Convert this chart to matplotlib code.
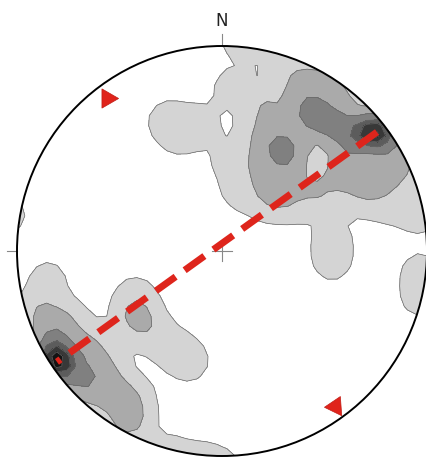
import numpy as np
import matplotlib
matplotlib.use('Agg')
import matplotlib.pyplot as plt
from matplotlib.patches import Circle

# poles in equal-area net coordinates (x = east, y = north), n = count at that spot
pole_x = [0.088, 0.215, 0.049, 0.039, 0.088, 0.210, 0.341, 0.683, 0.829, 0.966,
          0.537, 0.537, 0.966, 0.966, -0.268, -0.107, -0.205,
          0.366, 0.488, 0.576, 0.210, 0.195, 0.195, 0.273, 0.468, 0.600, 0.732, 0.859,
          0.600, 0.868, 0.341,
          0.405, 0.405, 0.507, 0.634, 0.307,
          0.756,
          -0.805,
          -0.839, -0.702, -0.620,
          -0.888, -0.766, -0.644, -0.571, -0.507, -0.459, -0.415,
          -0.849, -0.424, -0.327, -0.229, -0.156,
          -0.424, -0.449, -0.254, -0.107, 0.000, -1.044]
pole_y = [1.029, 1.010, 0.795, 0.444, 0.298, 0.249, 0.234, 0.268, 0.224, 0.176,
          0.063, -0.054, -0.102, -0.229, 0.639, 0.620, 0.566,
          0.844, 0.824, 0.751, 0.712, 0.566, 0.420, 0.298, 0.288, 0.371, 0.337, 0.385,
          0.454, 0.493, 0.420,
          0.737, 0.673, 0.620, 0.580, 0.512,
          0.580,
          -0.541,
          -0.449, -0.620, -0.688,
          -0.298, -0.346, -0.459, -0.571, -0.702, -0.815, -0.327,
          -0.141, -0.220, -0.410, -0.483, -0.541,
          -0.717, -0.849, -0.985, -1.029, -1.059, 0.176]
pole_n = [1, 1, 1, 1, 1, 1, 1, 1, 1, 1,
          1, 1, 1, 1, 1, 1, 1,
          2, 2, 2, 2, 2, 2, 2, 2, 2, 2, 2,
          2, 2, 2,
          1, 3.2, 4, 4, 4,
          9,
          9,
          3, 3, 2,
          2, 2, 2, 2, 2, 2, 2.6,
          1, 1, 1, 1, 1,
          1, 1, 1, 1, 1, 1]

levels = [0.5, 2.2, 4.5, 6.8, 8.2, 9.6, 100]
shades = ['#d4d4d4', '#aaaaaa', '#808080', '#5c5c5c', '#383838', '#141414']

marker_az = [323, 144]      # red triangles on the primitive
marker_rot = [-90, -146]


def density(gx, gy, sigma=0.07):
    d = np.zeros_like(gx)
    for x, y, n in zip(pole_x, pole_y, pole_n):
        d += n * np.exp(-((gx - x) ** 2 + (gy - y) ** 2) / (2 * sigma ** 2))
    return d


fig = plt.figure(figsize=(4.27, 4.57), dpi=100)
ax = fig.add_axes([0, 0, 1, 1])
ax.set_xlim(-222 / 205, 205 / 205)
ax.set_ylim(-206 / 205, 251 / 205)
ax.set_aspect('equal')
ax.axis('off')

g = np.linspace(-1.1, 1.1, 46)
gx, gy = np.meshgrid(g, g)
dens = density(gx, gy)

clip = Circle((0, 0), 1, transform=ax.transData)
cf = ax.contourf(gx, gy, dens, levels=levels, colors=shades)
cl = ax.contour(gx, gy, dens, levels=levels[:-1], colors='#666666', linewidths=0.5)
cf.set_clip_path(clip)
cl.set_clip_path(clip)

ax.add_patch(Circle((0, 0), 1, fill=False, ec='black', lw=1.4, zorder=5))

# ticks: N, W and centre cross
ax.plot([0, 0], [1.0, 1.06], color='#888888', lw=0.8)
ax.plot([-1.0, -1.05], [0, 0], color='#888888', lw=0.8)
ax.plot([-0.05, 0.05], [0, 0], color='#888888', lw=0.8)
ax.plot([0, 0], [-0.05, 0.05], color='#888888', lw=0.8)
ax.text(0, 1.122, 'N', ha='center', va='center', fontsize=12, color='#222222')

# dashed axis between the two maxima
imax = np.argsort(pole_n)[-2:]
ax.plot([pole_x[i] for i in imax], [pole_y[i] for i in imax], color='#de251c', lw=5,
        dashes=(3.5, 1.6), solid_capstyle='butt', dash_capstyle='butt', zorder=6)

for az, rot in zip(marker_az, marker_rot):
    a = np.radians(az)
    ax.plot(0.935 * np.sin(a), 0.935 * np.cos(a), marker=(3, 0, rot), ms=16,
            color='#e0231b', mec='#c01d16', mew=0.5, zorder=7)

fig.savefig('out.png', dpi=100)
